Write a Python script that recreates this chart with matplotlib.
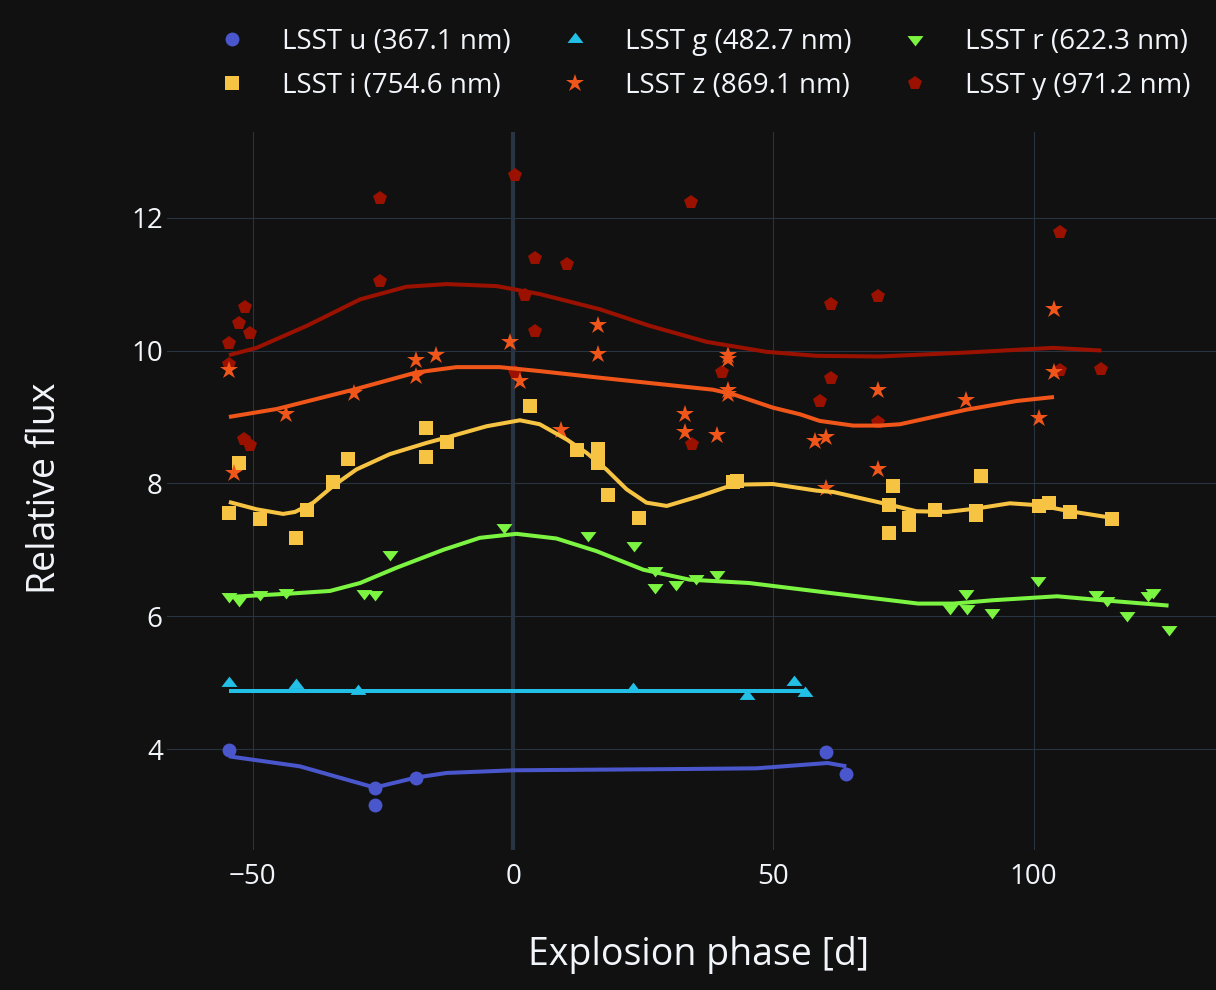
import matplotlib
matplotlib.use("Agg")
import matplotlib.pyplot as plt
from matplotlib.lines import Line2D

# observed photometry per band (phase in days, relative flux)
u_phase = [-54.6, -26.6, -26.6, -18.7, 60.1, 64.0]
u_flux = [3.99, 3.42, 3.15, 3.56, 3.95, 3.62]
g_phase = [-54.6, -41.8, -29.8, 23.1, 45.0, 54.0, 56.0]
g_flux = [5.00, 4.96, 4.87, 4.90, 4.80, 5.01, 4.85]
r_phase = [-54.6, -52.6, -48.7, -43.7, -23.7, -28.7, -26.6, -1.7, 14.3, 23.2, 27.2, 27.2,
           31.2, 35.1, 39.2, 83.9, 86.9, 87.1, 92.0, 100.9, 111.9, 114.0, 118.0, 121.9,
           123.0, 125.9]
r_flux = [6.30, 6.25, 6.34, 6.36, 6.93, 6.35, 6.34, 7.34, 7.22, 7.07, 6.70, 6.44,
          6.49, 6.57, 6.63, 6.12, 6.35, 6.12, 6.06, 6.54, 6.34, 6.25, 6.02, 6.32,
          6.37, 5.80]
i_phase = [-54.6, -52.6, -48.6, -39.6, -41.7, -34.6, -31.7, -16.7, -16.7, -12.7, 3.3,
           12.3, 16.3, 16.3, 18.2, 24.2, 42.3, 43.0, 72.2, 73.0, 72.2, 76.1, 76.1, 81.1,
           88.9, 88.9, 89.9, 101.0, 102.9, 107.0, 115.1]
i_flux = [7.56, 8.31, 7.46, 7.60, 7.18, 8.02, 8.36, 8.84, 8.40, 8.63, 9.17,
          8.50, 8.52, 8.30, 7.82, 7.48, 8.02, 8.03, 7.68, 7.96, 7.26, 7.48, 7.37, 7.60,
          7.58, 7.52, 8.11, 7.66, 7.71, 7.57, 7.47]
z_phase = [-54.6, -53.7, -43.6, -30.6, -18.7, -18.7, -14.8, -0.7, 1.3, 9.2, 16.3, 16.3,
           33.1, 33.1, 39.1, 41.2, 41.2, 41.2, 41.2, 58.0, 60.1, 60.1, 70.1, 70.1, 87.0,
           101.0, 103.9, 103.9]
z_flux = [9.70, 8.15, 9.05, 9.36, 9.85, 9.61, 9.94, 10.13, 9.54, 8.81, 10.38, 9.95,
          9.04, 8.77, 8.73, 9.93, 9.87, 9.41, 9.34, 8.64, 8.70, 7.93, 9.40, 8.21, 9.26,
          8.99, 10.62, 9.67]
y_phase = [-54.6, -54.6, -52.6, -51.6, -50.6, -51.7, -50.6, -25.6, -25.6, 0.4, 2.2, 4.2,
           4.2, 10.3, 34.1, 0.3, 40.1, 34.3, 61.1, 61.1, 59.0, 70.1, 70.1, 105.0, 105.0,
           113.0]
y_flux = [10.12, 9.80, 10.41, 10.66, 10.27, 8.67, 8.58, 12.29, 11.04, 12.64, 10.83, 11.40,
          10.30, 11.30, 12.24, 9.67, 9.68, 8.60, 10.70, 9.58, 9.24, 10.82, 8.93, 11.79, 9.70,
          9.72]

# fitted model curves
u_model_phase = [-54.6, -41.0, -26.6, -18.7, -12.8, 0.0, 33.9, 46.8, 60.4, 64.0]
u_model_flux = [3.89, 3.74, 3.42, 3.57, 3.64, 3.68, 3.70, 3.71, 3.79, 3.74]
g_model_phase = [-54.6, 56.0]
g_model_flux = [4.87, 4.87]
r_model_phase = [-54.6, -42.9, -35.2, -29.4, -22.4, -13.4, -6.4, 0.65, 8.3, 16.0, 25.0,
                 33.9, 45.3, 61.9, 77.8, 84.6, 92.1, 104.5, 111.7, 125.9]
r_model_flux = [6.29, 6.34, 6.38, 6.50, 6.73, 7.00, 7.18, 7.24, 7.17, 6.98, 6.70,
                6.55, 6.50, 6.34, 6.19, 6.19, 6.24, 6.30, 6.25, 6.16]
i_model_phase = [-54.6, -49.3, -44.2, -41.9, -38.4, -34.6, -30.1, -23.7, -16.6, -12.8,
                 -5.1, 1.3, 5.1, 10.3, 14.1, 17.9, 21.8, 25.6, 29.5, 35.9, 42.3, 49.9,
                 58.3, 61.5, 66.6, 72.2, 77.5, 83.3, 88.9, 95.4, 101.0, 107.0, 115.1]
i_model_flux = [7.72, 7.61, 7.54, 7.57, 7.71, 7.96, 8.21, 8.44, 8.61, 8.69,
                8.86, 8.95, 8.89, 8.66, 8.46, 8.21, 7.91, 7.71, 7.66, 7.81, 7.98, 7.99,
                7.89, 7.87, 7.78, 7.68, 7.58, 7.57, 7.62, 7.70, 7.67, 7.58, 7.48]
z_model_phase = [-54.6, -45.4, -30.7, -18.6, -10.9, -2.6, 5.1, 16.7, 38.4, 42.3, 49.9,
                 55.1, 58.9, 65.3, 70.4, 74.3, 87.1, 96.7, 103.9]
z_model_flux = [9.00, 9.12, 9.41, 9.67, 9.75, 9.75, 9.69, 9.59, 9.41, 9.34, 9.14,
                9.04, 8.94, 8.87, 8.87, 8.89, 9.11, 9.24, 9.30]
y_model_phase = [-54.6, -49.3, -39.7, -29.4, -20.5, -12.8, -3.2, 5.1, 16.7, 26.3, 37.2,
                 48.7, 58.3, 70.4, 87.1, 103.7, 113.0]
y_model_flux = [9.93, 10.04, 10.37, 10.77, 10.96, 11.00, 10.97, 10.85, 10.62, 10.37, 10.13,
                9.98, 9.92, 9.91, 9.97, 10.04, 10.00]

band_labels = ["LSST u (367.1 nm)", "LSST g (482.7 nm)", "LSST r (622.3 nm)",
               "LSST i (754.6 nm)", "LSST z (869.1 nm)", "LSST y (971.2 nm)"]

BG = "#111111"
GRID = "#283442"
TXT = "#f2f5fa"
plt.rcParams["font.family"] = ["Open Sans", "DejaVu Sans"]

tri_up = [(-1.155, -0.5), (1.155, -0.5), (0, 1.0)]
tri_down = [(-1.155, 0.5), (1.155, 0.5), (0, -1.0)]

bands = [
    (u_phase, u_flux, u_model_phase, u_model_flux, "#4a56cc", "o", 10.0),
    (g_phase, g_flux, g_model_phase, g_model_flux, "#22bfe6", tri_up, 11.5),
    (r_phase, r_flux, r_model_phase, r_model_flux, "#7cf442", tri_down, 11.5),
    (i_phase, i_flux, i_model_phase, i_model_flux, "#f7c342", "s", 10.6),
    (z_phase, z_flux, z_model_phase, z_model_flux, "#f0561a", "*", 13.6),
    (y_phase, y_flux, y_model_phase, y_model_flux, "#9b1100", "p", 10.0),
]

fig = plt.figure(figsize=(12.16, 9.9), dpi=100, facecolor=BG)
# plot area in pixels: left 167, right 1231 (runs past the edge), top 132, bottom 850
ax = fig.add_axes([167 / 1216, 1 - 850 / 990, 1064 / 1216, 718 / 990])
ax.set_facecolor(BG)

handles = []
marker_order = [0, 1, 2, 3, 5, 4]
for k in marker_order:
    px, fx, mx, mf, col, mk, ms = bands[k]
    ax.plot(px, fx, linestyle="none", marker=mk, markersize=ms, color=col,
            markeredgewidth=0, zorder=3)
for k, (px, fx, mx, mf, col, mk, ms) in enumerate(bands):
    ax.plot(mx, mf, color=col, linewidth=2.9, solid_joinstyle="round",
            solid_capstyle="butt", zorder=4)
    handles.append(Line2D([], [], linestyle="none", marker=mk, markersize=ms,
                          color=col, markeredgewidth=0, label=band_labels[k]))

ax.axvline(0, color="#283442", linewidth=3.0, zorder=2)
ax.set_xlim(-66.5, 137.9)
ax.set_ylim(2.48, 13.29)
ax.set_xticks([-50, 0, 50, 100])
ax.set_yticks([4, 6, 8, 10, 12])
ax.grid(True, color=GRID, linewidth=0.8, zorder=1)
ax.set_axisbelow(True)
for s in ax.spines.values():
    s.set_visible(False)
ax.tick_params(axis="both", length=0, labelsize=20, colors=TXT)
ax.tick_params(axis="x", pad=9)
ax.tick_params(axis="y", pad=3)

fig.text(45 / 1216, 1 - 488 / 990, "Relative flux", rotation=90, ha="center",
         va="center", fontsize=27, color=TXT)
fig.text(699 / 1216, 1 - 955 / 990, "Explosion phase [d]", ha="center", va="center",
         fontsize=27, color=TXT)

# legend rows: u g r / i z y
ordered = [handles[0], handles[3], handles[1], handles[4], handles[2], handles[5]]
leg = fig.legend(handles=ordered, loc="upper left", bbox_to_anchor=(218 / 1216, 1 - 28 / 990),
                 ncol=3, frameon=False, fontsize=20, handlelength=1.0, handletextpad=1.3,
                 columnspacing=1.8, labelspacing=0.57, borderaxespad=0, borderpad=0)
for t in leg.get_texts():
    t.set_color(TXT)

fig.savefig("out.png", dpi=100, facecolor=BG)
